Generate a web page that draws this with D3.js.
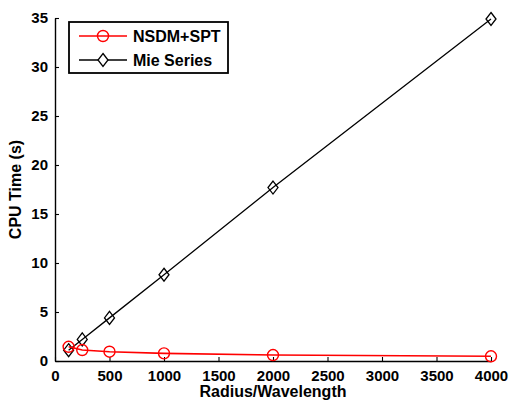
<!DOCTYPE html>
<html>
<head>
<meta charset="utf-8">
<script src="https://cdn.jsdelivr.net/npm/d3@7"></script>
<style>
  html, body { margin: 0; padding: 0; background: #fff; overflow: hidden; }
  svg { display: block; }
  svg text { font-family: "Liberation Sans", Arial, sans-serif; font-weight: bold; }
</style>
</head>
<body>
<script>
// CPU time versus radius/wavelength for the two solvers
const ratios = [125, 250, 500, 1000, 2000, 4000];
const nsdmSpt = [1.45, 1.12, 0.95, 0.78, 0.61, 0.48];
const mieSeries = [1.1, 2.2, 4.4, 8.8, 17.7, 34.9];
const xTicks = [0, 500, 1000, 1500, 2000, 2500, 3000, 3500, 4000];
const yTicks = [0, 5, 10, 15, 20, 25, 30, 35];
const seriesNames = ["NSDM+SPT", "Mie Series"];

const W = 511, H = 401;
const m = { left: 55, right: 20, top: 18, bottom: 40 };

const svg = d3.select("body").append("svg")
  .attr("width", W).attr("height", H);

const x = d3.scaleLinear().domain([0, 4000]).range([m.left, W - m.right]);
const y = d3.scaleLinear().domain([0, 35]).range([H - m.bottom, m.top]);

// axes with inward ticks
const xAxis = svg.append("g")
  .attr("transform", `translate(0,${y(0)})`)
  .call(d3.axisBottom(x).tickValues(xTicks).tickFormat(d3.format("d"))
    .tickSizeInner(-4).tickSizeOuter(0).tickPadding(7));
const yAxis = svg.append("g")
  .attr("transform", `translate(${x(0)},0)`)
  .call(d3.axisLeft(y).tickValues(yTicks).tickFormat(d3.format("d"))
    .tickSizeInner(-4).tickSizeOuter(0).tickPadding(7));

[xAxis, yAxis].forEach(g => {
  g.select(".domain").attr("stroke", "#000").attr("stroke-width", 1.4);
  g.selectAll(".tick line").attr("stroke", "#000").attr("stroke-width", 1.1);
  g.selectAll(".tick text").attr("font-size", 15).attr("fill", "#000")
    .attr("font-family", "Liberation Sans, Arial, sans-serif").attr("font-weight", "bold");
});
xAxis.selectAll(".tick text").attr("dy", "0.85em");

// axis titles
svg.append("text")
  .attr("x", (x(0) + x(4000)) / 2).attr("y", 397)
  .attr("text-anchor", "middle").attr("font-size", 16)
  .text("Radius/Wavelength");
svg.append("text")
  .attr("transform", `translate(21,${(y(0) + y(35)) / 2}) rotate(-90)`)
  .attr("text-anchor", "middle").attr("font-size", 16)
  .text("CPU Time (s)");

const line = d3.line().x(d => x(d[0])).y(d => y(d[1]));
const nsdmPts = ratios.map((r, i) => [r, nsdmSpt[i]]);
const miePts = ratios.map((r, i) => [r, mieSeries[i]]);

const diamond = (cx, cy) => `M${cx},${cy - 6.5}L${cx + 5},${cy}L${cx},${cy + 6.5}L${cx - 5},${cy}Z`;

// Mie series: black line with diamond markers
svg.append("path").datum(miePts).attr("d", line)
  .attr("fill", "none").attr("stroke", "#000").attr("stroke-width", 1.3);
svg.selectAll(".mie").data(miePts).enter().append("path")
  .attr("d", d => diamond(x(d[0]), y(d[1])))
  .attr("fill", "none").attr("stroke", "#000").attr("stroke-width", 1.3);

// NSDM+SPT: red line with circle markers
svg.append("path").datum(nsdmPts).attr("d", line)
  .attr("fill", "none").attr("stroke", "#ff0000").attr("stroke-width", 1.6);
svg.selectAll(".nsdm").data(nsdmPts).enter().append("circle")
  .attr("cx", d => x(d[0])).attr("cy", d => y(d[1])).attr("r", 5.5)
  .attr("fill", "none").attr("stroke", "#ff0000").attr("stroke-width", 1.4);

// legend
const lg = svg.append("g");
lg.append("rect").attr("x", 69).attr("y", 22).attr("width", 159).attr("height", 51)
  .attr("fill", "#fff").attr("stroke", "#000").attr("stroke-width", 1.8);
const rows = [
  { name: seriesNames[0], color: "#ff0000", ly: 36 },
  { name: seriesNames[1], color: "#000", ly: 60 }
];
rows.forEach((r, i) => {
  lg.append("line").attr("x1", 79).attr("x2", 127).attr("y1", r.ly).attr("y2", r.ly)
    .attr("stroke", r.color).attr("stroke-width", i === 0 ? 1.6 : 1.3);
  if (i === 0) {
    lg.append("circle").attr("cx", 103).attr("cy", r.ly).attr("r", 5.5)
      .attr("fill", "none").attr("stroke", r.color).attr("stroke-width", 1.4);
  } else {
    lg.append("path").attr("d", diamond(103, r.ly))
      .attr("fill", "#fff").attr("stroke", r.color).attr("stroke-width", 1.3);
  }
  lg.append("text").attr("x", 133).attr("y", r.ly + 5.5).attr("font-size", 16)
    .text(r.name);
});
</script>
</body>
</html>
